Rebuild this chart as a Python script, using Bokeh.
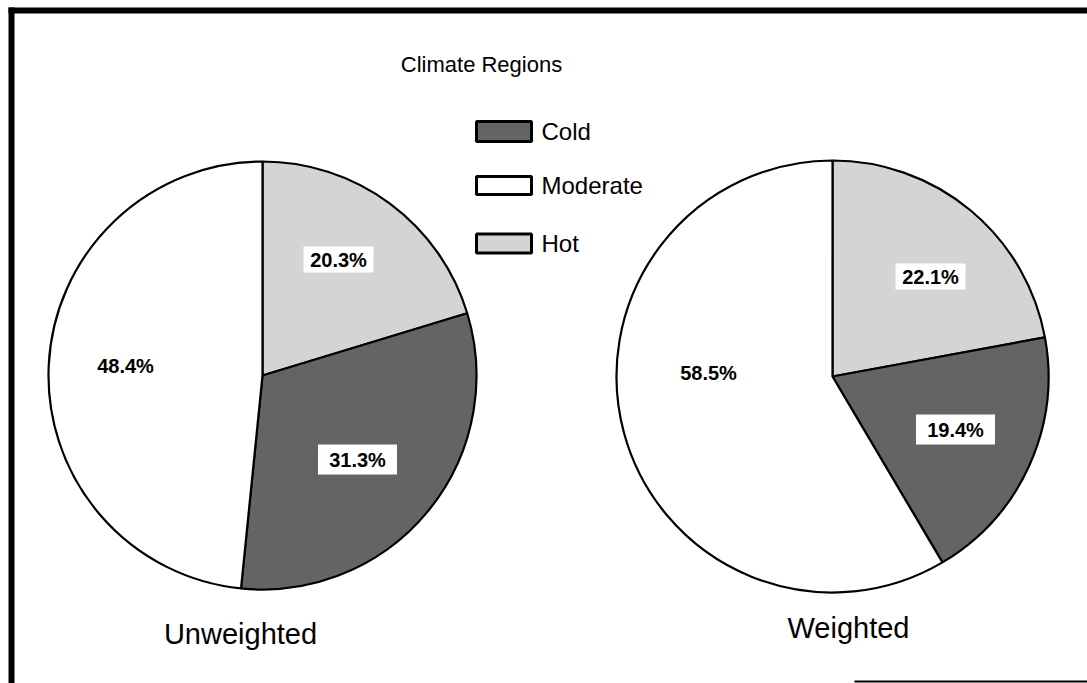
import math
from bokeh.plotting import figure
from bokeh.models import Range1d, ColumnDataSource
from bokeh.core.properties import value
from bokeh.embed import file_html
from bokeh.resources import INLINE

# ---------------- data ----------------
regions = ["Cold", "Moderate", "Hot"]            # legend order
slice_order = ["Hot", "Cold", "Moderate"]         # clockwise from 12 o'clock
unweighted_pct = [20.3, 31.3, 48.4]
weighted_pct = [22.1, 19.4, 58.5]
pie_titles = ["Unweighted", "Weighted"]
legend_title = "Climate Regions"

# ---------------- styles / layout ----------------
W, H = 1087, 683
FONT = "Liberation Sans"
COLORS = {"Cold": "#646464", "Moderate": "#ffffff", "Hot": "#d4d4d4"}

def Y(ypix):
    return H - ypix

PIES = [
    dict(cx=262, cy=375, r=214, title_xy=(240, 633),
         label_xy=[(338, 259), (357, 459), (125, 365)]),
    dict(cx=832, cy=376, r=216, title_xy=(848, 627),
         label_xy=[(930, 276), (955, 429), (708, 372)]),
]
BOX = {"Hot": (70, 26), "Cold": (79, 30), "Moderate": None}

p = figure(width=W, height=H, x_range=Range1d(0, W), y_range=Range1d(0, H),
           output_backend="svg", toolbar_location=None, min_border=0,
           background_fill_color="white", border_fill_color="white")
p.axis.visible = False
p.grid.visible = False
p.outline_line_color = None

for pie, pcts, title in zip(PIES, [unweighted_pct, weighted_pct], pie_titles):
    starts, ends = [], []
    cum = 0.0
    for v in pcts:
        a0 = math.radians(90 - (cum + v) / 100 * 360)
        a1 = math.radians(90 - cum / 100 * 360)
        starts.append(a0)
        ends.append(a1)
        cum += v
    src = ColumnDataSource(dict(
        x=[pie["cx"]] * len(pcts), y=[Y(pie["cy"])] * len(pcts),
        start=starts, end=ends,
        color=[COLORS[s] for s in slice_order],
    ))
    p.wedge(x="x", y="y", radius=pie["r"], start_angle="start", end_angle="end",
            direction="anticlock", fill_color="color", line_color="black",
            line_width=2.2, source=src)

    # label boxes and labels
    bx0, bx1, by0, by1 = [], [], [], []
    for s, (lx, ly) in zip(slice_order, pie["label_xy"]):
        if BOX[s]:
            bw, bh = BOX[s]
            bx0.append(lx - bw / 2); bx1.append(lx + bw / 2)
            by0.append(Y(ly) - bh / 2); by1.append(Y(ly) + bh / 2)
    p.quad(left=bx0, right=bx1, bottom=by0, top=by1, fill_color="white",
           line_color=None)
    p.text(x=[xy[0] for xy in pie["label_xy"]], y=[Y(xy[1]) for xy in pie["label_xy"]],
           text=[f"{v:.1f}%" for v in pcts], text_align="center",
           text_baseline="middle", text_font=value(FONT), text_font_size="20px",
           text_font_style="bold", text_color="black")
    p.text(x=[pie["title_xy"][0]], y=[Y(pie["title_xy"][1])], text=[title],
           text_align="center", text_baseline="middle", text_font=value(FONT),
           text_font_size="29px", text_color="black")

# legend
LEG_X0, LEG_X1 = 476, 531
LEG_Y = [131, 185, 243]
LEG_H = [20, 18, 19]
p.text(x=[481], y=[Y(64)], text=[legend_title], text_align="center",
       text_baseline="middle", text_font=value(FONT), text_font_size="22px",
       text_color="black")
p.quad(left=[LEG_X0] * 3, right=[LEG_X1] * 3,
       bottom=[Y(yc) - h / 2 for yc, h in zip(LEG_Y, LEG_H)],
       top=[Y(yc) + h / 2 for yc, h in zip(LEG_Y, LEG_H)],
       fill_color=[COLORS[r] for r in regions], line_color="black", line_width=3)
p.text(x=[541] * 3, y=[Y(yc) for yc in LEG_Y], text=regions, text_align="left",
       text_baseline="middle", text_font=value(FONT), text_font_size="24px",
       text_color="black")

# frame
p.segment(x0=[8, 11, 854], y0=[Y(10), Y(7), Y(681)], x1=[W, 11, W],
          y1=[Y(10), 0, Y(681)], line_color="black",
          line_width=[6, 6, 2])

open("out.html", "w").write(file_html(p, INLINE))
